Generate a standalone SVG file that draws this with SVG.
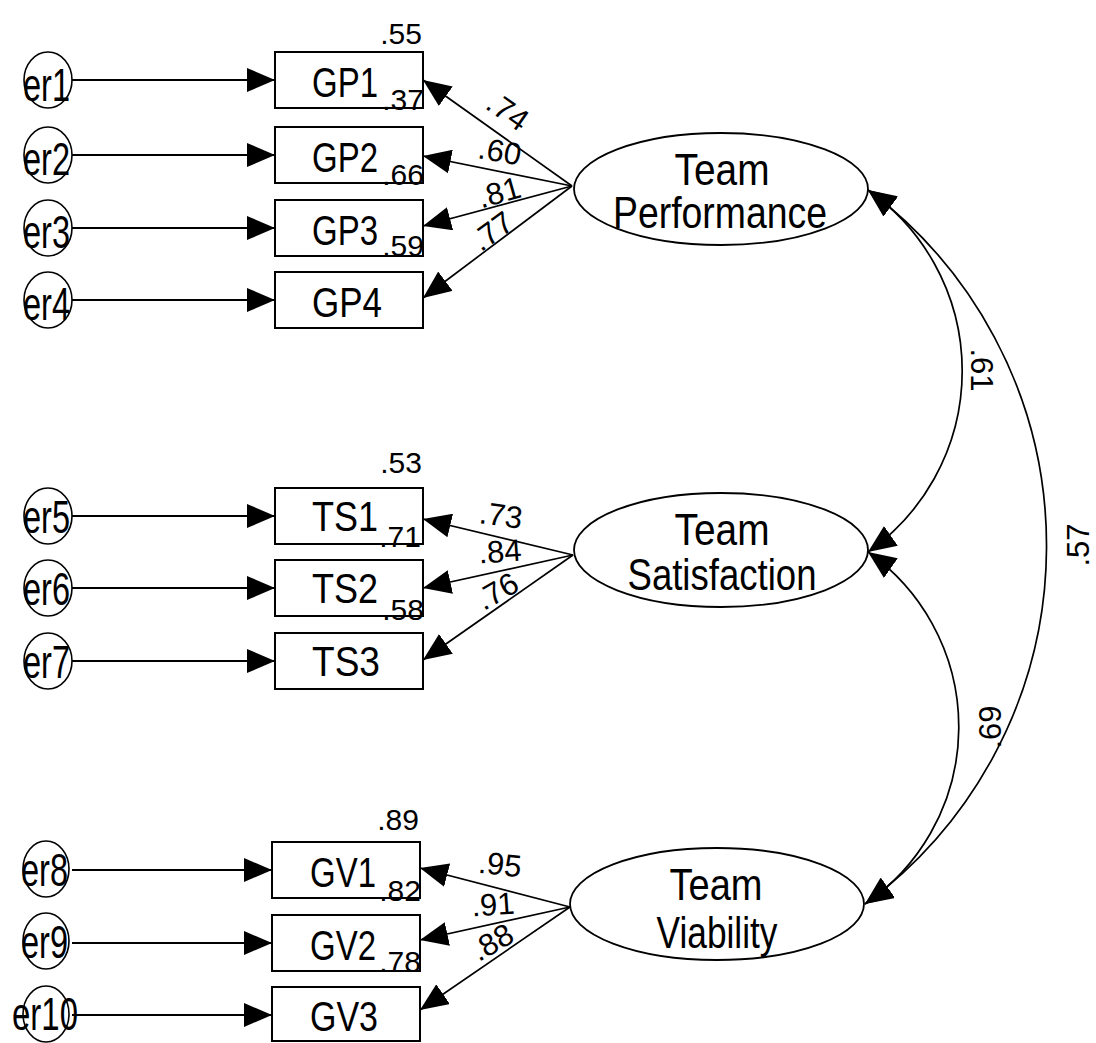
<svg xmlns="http://www.w3.org/2000/svg" width="1096" height="1043" viewBox="0 0 1096 1043">
  <defs>
    <style>
      text { font-family: "Liberation Sans", Arial, sans-serif; fill: #000; }
      .box { fill: #fff; stroke: #000; stroke-width: 2; }
      .err { fill: #fff; stroke: #000; stroke-width: 1.6; }
      .lat { fill: #fff; stroke: #000; stroke-width: 1.8; }
      .path { fill: none; stroke: #000; stroke-width: 2; }
      .load { fill: none; stroke: #000; stroke-width: 1.7; }
      .cov { fill: none; stroke: #000; stroke-width: 1.7; }
      .obs { font-size: 43px; text-anchor: middle; }
      .elab { font-size: 46px; }
      .flab { font-size: 44px; text-anchor: middle; }
      .num { font-size: 31px; }
      .r2 { font-size: 30px; text-anchor: end; }
    </style>
    <marker id="ah" viewBox="0 0 28 24" refX="28" refY="12" markerWidth="28" markerHeight="24" markerUnits="userSpaceOnUse" orient="auto">
      <path d="M0,0 L28,12 L0,24 Z" fill="#000"/>
    </marker>
    <marker id="ahs" viewBox="0 0 28 24" refX="28" refY="12" markerWidth="28" markerHeight="24" markerUnits="userSpaceOnUse" orient="auto-start-reverse">
      <path d="M0,0 L28,12 L0,24 Z" fill="#000"/>
    </marker>
  </defs>

  <rect width="1096" height="1043" fill="#fff"/>

  <!-- connectors: error terms, factor loadings, covariances -->
  <g id="connectors">
    <path class="path" d="M72,80 H275" marker-end="url(#ah)"/>
    <path class="path" d="M72,155 H275" marker-end="url(#ah)"/>
    <path class="path" d="M72,228 H275" marker-end="url(#ah)"/>
    <path class="path" d="M72,300 H275" marker-end="url(#ah)"/>
    <path class="path" d="M72,516 H275" marker-end="url(#ah)"/>
    <path class="path" d="M72,588 H275" marker-end="url(#ah)"/>
    <path class="path" d="M72,661 H275" marker-end="url(#ah)"/>
    <path class="path" d="M72,870 H272" marker-end="url(#ah)"/>
    <path class="path" d="M72,943 H272" marker-end="url(#ah)"/>
    <path class="path" d="M72,1015 H272" marker-end="url(#ah)"/>

    <path class="load" d="M572,186 L423,80" marker-end="url(#ah)"/>
    <path class="load" d="M572,186 L423,156" marker-end="url(#ah)"/>
    <path class="load" d="M572,186 L423,226" marker-end="url(#ah)"/>
    <path class="load" d="M572,186 L423,298" marker-end="url(#ah)"/>

    <path class="load" d="M573,555 L423,519" marker-end="url(#ah)"/>
    <path class="load" d="M573,555 L423,588" marker-end="url(#ah)"/>
    <path class="load" d="M573,555 L423,660" marker-end="url(#ah)"/>

    <path class="load" d="M570,907 L420,868" marker-end="url(#ah)"/>
    <path class="load" d="M570,907 L420,940" marker-end="url(#ah)"/>
    <path class="load" d="M570,907 L420,1010" marker-end="url(#ah)"/>

    <path class="cov" d="M868,190 A221,221 0 0 1 868,552" marker-start="url(#ahs)" marker-end="url(#ah)"/>
    <path class="cov" d="M868,190 A444,444 0 0 1 865,904" marker-start="url(#ahs)" marker-end="url(#ah)"/>
    <path class="cov" d="M868,552 A214,214 0 0 1 865,904" marker-start="url(#ahs)" marker-end="url(#ah)"/>
  </g>

  <!-- error terms -->
  <g id="er1"><ellipse class="err" cx="48" cy="80" rx="24" ry="28"/><text class="elab" x="23" y="101" textLength="47" lengthAdjust="spacingAndGlyphs">er1</text></g>
  <g id="er2"><ellipse class="err" cx="48" cy="155" rx="24" ry="28"/><text class="elab" x="23" y="175" textLength="47" lengthAdjust="spacingAndGlyphs">er2</text></g>
  <g id="er3"><ellipse class="err" cx="48" cy="228" rx="24" ry="28"/><text class="elab" x="23" y="248" textLength="47" lengthAdjust="spacingAndGlyphs">er3</text></g>
  <g id="er4"><ellipse class="err" cx="48" cy="300" rx="24" ry="28"/><text class="elab" x="23" y="320" textLength="47" lengthAdjust="spacingAndGlyphs">er4</text></g>
  <g id="er5"><ellipse class="err" cx="48" cy="516" rx="24" ry="28"/><text class="elab" x="23" y="533" textLength="47" lengthAdjust="spacingAndGlyphs">er5</text></g>
  <g id="er6"><ellipse class="err" cx="48" cy="588" rx="24" ry="28"/><text class="elab" x="23" y="605" textLength="47" lengthAdjust="spacingAndGlyphs">er6</text></g>
  <g id="er7"><ellipse class="err" cx="48" cy="661" rx="24" ry="28"/><text class="elab" x="23" y="678" textLength="47" lengthAdjust="spacingAndGlyphs">er7</text></g>
  <g id="er8"><ellipse class="err" cx="46" cy="869" rx="23" ry="28"/><text class="elab" x="21" y="886" textLength="47" lengthAdjust="spacingAndGlyphs">er8</text></g>
  <g id="er9"><ellipse class="err" cx="46" cy="941" rx="23" ry="28"/><text class="elab" x="21" y="958" textLength="47" lengthAdjust="spacingAndGlyphs">er9</text></g>
  <g id="er10"><ellipse class="err" cx="46" cy="1014" rx="23" ry="28"/><text class="elab" x="12" y="1030" textLength="66" lengthAdjust="spacingAndGlyphs">er10</text></g>

  <!-- observed indicators -->
  <g id="GP1"><rect class="box" x="275" y="52" width="148" height="56"/><text class="obs" x="345" y="97" textLength="66" lengthAdjust="spacingAndGlyphs">GP1</text></g>
  <g id="GP2"><rect class="box" x="275" y="127" width="148" height="56"/><text class="obs" x="345" y="172" textLength="66" lengthAdjust="spacingAndGlyphs">GP2</text></g>
  <g id="GP3"><rect class="box" x="275" y="200" width="148" height="56"/><text class="obs" x="345" y="245" textLength="66" lengthAdjust="spacingAndGlyphs">GP3</text></g>
  <g id="GP4"><rect class="box" x="275" y="272" width="148" height="56"/><text class="obs" x="347" y="317" textLength="70" lengthAdjust="spacingAndGlyphs">GP4</text></g>

  <g id="TS1"><rect class="box" x="275" y="488" width="148" height="56"/><text class="obs" x="345" y="531" textLength="66" lengthAdjust="spacingAndGlyphs">TS1</text></g>
  <g id="TS2"><rect class="box" x="275" y="560" width="148" height="56"/><text class="obs" x="345" y="603" textLength="66" lengthAdjust="spacingAndGlyphs">TS2</text></g>
  <g id="TS3"><rect class="box" x="275" y="633" width="148" height="56"/><text class="obs" x="346" y="676" textLength="68" lengthAdjust="spacingAndGlyphs">TS3</text></g>

  <g id="GV1"><rect class="box" x="272" y="842" width="148" height="56"/><text class="obs" x="343" y="887" textLength="66" lengthAdjust="spacingAndGlyphs">GV1</text></g>
  <g id="GV2"><rect class="box" x="272" y="915" width="148" height="56"/><text class="obs" x="343" y="960" textLength="66" lengthAdjust="spacingAndGlyphs">GV2</text></g>
  <g id="GV3"><rect class="box" x="272" y="987" width="148" height="54"/><text class="obs" x="344" y="1031" textLength="68" lengthAdjust="spacingAndGlyphs">GV3</text></g>

  <!-- latent factors -->
  <g id="TeamPerformance">
    <ellipse class="lat" cx="721" cy="189" rx="147" ry="56"/>
    <text class="flab" x="722" y="185" textLength="95" lengthAdjust="spacingAndGlyphs">Team</text>
    <text class="flab" x="720" y="228" textLength="214" lengthAdjust="spacingAndGlyphs">Performance</text>
  </g>
  <g id="TeamSatisfaction">
    <ellipse class="lat" cx="721" cy="550" rx="147" ry="57"/>
    <text class="flab" x="722" y="545" textLength="95" lengthAdjust="spacingAndGlyphs">Team</text>
    <text class="flab" x="722" y="590" textLength="189" lengthAdjust="spacingAndGlyphs">Satisfaction</text>
  </g>
  <g id="TeamViability">
    <ellipse class="lat" cx="717" cy="904" rx="147" ry="56"/>
    <text class="flab" x="716" y="900" textLength="93" lengthAdjust="spacingAndGlyphs">Team</text>
    <text class="flab" x="717" y="948" textLength="121" lengthAdjust="spacingAndGlyphs">Viability</text>
  </g>

  <!-- squared multiple correlations -->
  <g id="r-squared">
    <text class="r2" x="422" y="44">.55</text>
    <text class="r2" x="424" y="110">.37</text>
    <text class="r2" x="424" y="185">.66</text>
    <text class="r2" x="424" y="256">.59</text>
    <text class="r2" x="422" y="473">.53</text>
    <text class="r2" x="421" y="547">.71</text>
    <text class="r2" x="424" y="620">.58</text>
    <text class="r2" x="419" y="830">.89</text>
    <text class="r2" x="421" y="901">.82</text>
    <text class="r2" x="421" y="972">.78</text>
  </g>

  <!-- standardized loadings and correlations -->
  <g id="coefficients" text-anchor="middle">
    <text class="num" transform="translate(508,111) rotate(35)" y="11">.74</text>
    <text class="num" transform="translate(500,151) rotate(10)" y="11">.60</text>
    <text class="num" transform="translate(499,192) rotate(-16)" y="11">.81</text>
    <text class="num" transform="translate(492,231) rotate(-36)" y="11">.77</text>

    <text class="num" transform="translate(501,515) rotate(8)" y="11">.73</text>
    <text class="num" transform="translate(500,551) rotate(-4)" y="11">.84</text>
    <text class="num" transform="translate(497,591) rotate(-30)" y="11">.76</text>

    <text class="num" transform="translate(500,864) rotate(6)" y="11">.95</text>
    <text class="num" transform="translate(493,904) rotate(-4)" y="11">.91</text>
    <text class="num" transform="translate(492,942) rotate(-30)" y="11">.88</text>

    <text class="num" transform="translate(982,370) rotate(90)" y="11">.61</text>
    <text class="num" transform="translate(1078,545) rotate(-90)" y="11">.57</text>
    <text class="num" transform="translate(990,727) rotate(-90)" y="11">.69</text>
  </g>
</svg>
